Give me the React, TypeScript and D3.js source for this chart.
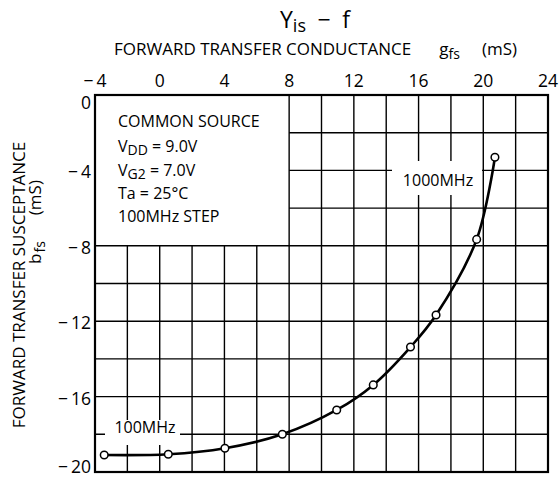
import React from "react";
import * as d3 from "d3";

const conductance = [-3.43, 0.53, 4.03, 7.58, 10.94, 13.2, 15.5, 17.08, 19.59, 20.72];
const susceptance = [-19.1, -19.06, -18.74, -18.0, -16.71, -15.38, -13.37, -11.67, -7.66, -3.3];
const xTicks = [-4, 0, 4, 8, 12, 16, 20, 24];
const yTicks = [0, -4, -8, -12, -16, -20];
const gridX = [-2, 0, 2, 4, 6, 8, 10, 12, 14, 16, 18, 20, 22];
const gridY = [-2, -4, -6, -8, -10, -12, -14, -16, -18];
const boxLines = ["COMMON SOURCE", "VDD", "VG2", "Ta = 25°C", "100MHz STEP"];

const FONT = "'Open Sans', 'Noto Sans', sans-serif";

function fmt(v: number) {
  return v < 0 ? "\u2212\u2009" + Math.abs(v) : String(v);
}

export default function App() {
  const W = 559, H = 479;
  const x = d3.scaleLinear().domain([-4, 24]).range([95, 548]);
  const y = d3.scaleLinear().domain([0, -20]).range([95, 472]);
  const pts: [number, number][] = conductance.map((c, i) => [c, susceptance[i]]);
  const line = d3
    .line<[number, number]>()
    .x((d) => x(d[0]))
    .y((d) => y(d[1]))
    .curve(d3.curveCatmullRom.alpha(0.5));

  const boxY = [127, 152, 176, 199, 222];
  const yOff = (t: number) => (t === 0 ? 7 : t === -20 ? -6 : 1);

  return (
    <svg width={W} height={H} style={{ position: "absolute", left: 0, top: 0, background: "#fff" }} fontFamily={FONT}>
      <rect x={0} y={0} width={W} height={H} fill="#fff" />
      {/* grid */}
      {gridX.map((g) => (
        <line key={"gx" + g} x1={x(g)} x2={x(g)} y1={g >= 8 ? y(0) : y(-8)} y2={y(-20)} stroke="#000" strokeWidth={1.4} />
      ))}
      {gridY.map((g) => (
        <line key={"gy" + g} x1={g > -8 ? x(8) : x(-4)} x2={x(24)} y1={y(g)} y2={y(g)} stroke="#000" strokeWidth={1.4} />
      ))}
      {/* label backgrounds */}
      <rect x={392} y={161} width={90} height={34} fill="#fff" />
      <rect x={105} y={420} width={75} height={25} fill="#fff" />
      <text x={438} y={186} fontSize={16} textAnchor="middle">1000MHz</text>
      <text x={145} y={433} fontSize={16} textAnchor="middle">100MHz</text>
      {/* frame */}
      <rect x={x(-4)} y={y(0)} width={x(24) - x(-4)} height={y(-20) - y(0)} fill="none" stroke="#000" strokeWidth={2.2} />
      {/* curve */}
      <path d={line(pts) || ""} fill="none" stroke="#000" strokeWidth={2.6} />
      {pts.map((p, i) => (
        <circle key={i} cx={x(p[0])} cy={y(p[1])} r={3.8} fill="#fff" stroke="#000" strokeWidth={1.5} />
      ))}
      {/* x tick labels */}
      {xTicks.map((t) => (
        <text key={"xt" + t} x={x(t)} y={87} fontSize={17.5} textAnchor="middle">{fmt(t)}</text>
      ))}
      {/* y tick labels */}
      {yTicks.map((t) => (
        <text key={"yt" + t} x={91} y={y(t) + yOff(t)} fontSize={17.5} textAnchor="end" dominantBaseline="central">{fmt(t)}</text>
      ))}
      {/* conditions box */}
      <text x={118} y={boxY[0]} fontSize={16}>{boxLines[0]}</text>
      <text x={118} y={boxY[1]} fontSize={16}>
        V<tspan fontSize={14} dy={3}>DD</tspan><tspan dy={-3}> = 9.0V</tspan>
      </text>
      <text x={118} y={boxY[2]} fontSize={16}>
        V<tspan fontSize={14} dy={3}>G2</tspan><tspan dy={-3}> = 7.0V</tspan>
      </text>
      <text x={118} y={boxY[3]} fontSize={16}>{boxLines[3]}</text>
      <text x={118} y={boxY[4]} fontSize={16}>{boxLines[4]}</text>
      {/* titles */}
      <text x={280} y={28} fontSize={23}>
        Y<tspan fontSize={18} dy={4}>is</tspan><tspan dy={-4}>{"\u2002\u2212\u2002f"}</tspan>
      </text>
      <text x={114} y={55} fontSize={17}>
        FORWARD TRANSFER CONDUCTANCE<tspan dx={28}>g</tspan><tspan fontSize={14} dy={4}>fs</tspan>
        <tspan dy={-4} dx={22}>(mS)</tspan>
      </text>
      <text transform="translate(25,285) rotate(-90)" fontSize={17} textAnchor="middle">
        FORWARD TRANSFER SUSCEPTANCE
      </text>
      <text transform="translate(41,222) rotate(-90)" fontSize={17} textAnchor="middle">
        b<tspan fontSize={14} dy={4} dx={1}>fs</tspan><tspan dy={-4} dx={26}>(mS)</tspan>
      </text>
    </svg>
  );
}
